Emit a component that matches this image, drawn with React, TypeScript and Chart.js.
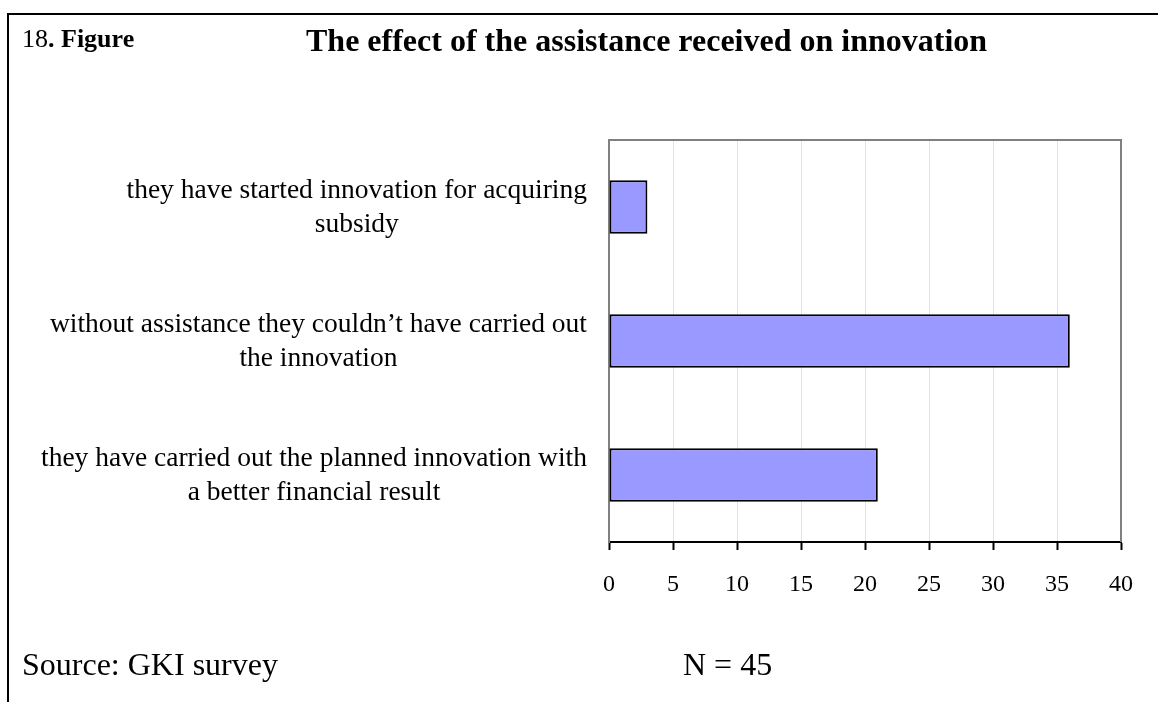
import React, { useEffect, useRef } from "react";
import { Chart, registerables } from "chart.js";

Chart.register(...registerables);

// ---- data ----
const categories: string[][] = [
  ["they have started innovation for acquiring", "subsidy"],
  ["without assistance they couldn\u2019t have carried out", "the innovation"],
  ["they have carried out the planned innovation with", "a better financial result"],
];
const values: number[] = [3, 36, 21];
const xMin = 0;
const xMax = 40;
const xStep = 5;

const figureNumber = "18";
const figureWord = ". Figure";
const titleText = "The effect of the assistance received on innovation";
const sourceText = "Source: GKI survey";
const sampleText = "N = 45";

const SERIF = '"Liberation Serif", "Times New Roman", serif';
const LABEL_FONT = 27.5;
const LABEL_LINE = 34;

const categoryLabelPlugin = {
  id: "categoryLabels",
  afterDraw(chart: any) {
    const ys = chart.scales.y;
    const ctx = chart.ctx as CanvasRenderingContext2D;
    ctx.save();
    ctx.font = `${LABEL_FONT}px ${SERIF}`;
    ctx.fillStyle = "#000";
    ctx.textBaseline = "middle";
    ctx.textAlign = "center";
    const right = chart.chartArea.left - 22;
    categories.forEach((lines, i) => {
      const y = ys.getPixelForTick(i) + 1;
      const w = Math.max(...lines.map((l) => ctx.measureText(l).width));
      const cx = right - w / 2;
      lines.forEach((l, j) => {
        ctx.fillText(l, cx, y + (j - (lines.length - 1) / 2) * LABEL_LINE);
      });
    });
    ctx.restore();
  },
};

const framePlugin = {
  id: "plotFrame",
  beforeDatasetsDraw(chart: any) {
    const { left, right, top, bottom } = chart.chartArea;
    const ctx = chart.ctx as CanvasRenderingContext2D;
    ctx.save();
    ctx.strokeStyle = "#808080";
    ctx.lineWidth = 2;
    ctx.beginPath();
    ctx.moveTo(left, top);
    ctx.lineTo(right, top);
    ctx.lineTo(right, bottom);
    ctx.stroke();
    ctx.restore();
  },
};

export default function App() {
  const canvasRef = useRef<HTMLCanvasElement | null>(null);

  useEffect(() => {
    if (!canvasRef.current) return;
    const chart = new Chart(canvasRef.current, {
      type: "bar",
      data: {
        labels: categories,
        datasets: [
          {
            data: values,
            backgroundColor: "#9999ff",
            borderColor: "#000000",
            borderWidth: 2,
            borderSkipped: false,
            barPercentage: 0.4,
            categoryPercentage: 1,
          },
        ],
      },
      options: {
        indexAxis: "y",
        responsive: false,
        animation: false,
        devicePixelRatio: 1,
        layout: { padding: { top: 140, right: 37, left: 0, bottom: 0 } },
        plugins: {
          legend: { display: false },
          tooltip: { enabled: false },
          title: { display: false },
        },
        scales: {
          x: {
            min: xMin,
            max: xMax,
            ticks: {
              stepSize: xStep,
              color: "#000",
              font: { family: SERIF, size: 24 },
              padding: 20,
              maxRotation: 0,
            },
            grid: {
              color: "#e2e2e2",
              lineWidth: 1,
              tickColor: "#000",
              tickLength: 8,
              tickWidth: 2,
            },
            border: { color: "#000", width: 2 },
            afterFit: (s: any) => {
              s.height = 160;
            },
          },
          y: {
            ticks: { display: false },
            grid: { display: false },
            border: { color: "#808080", width: 2 },
            afterFit: (s: any) => {
              s.width = 609;
            },
          },
        },
      },
      plugins: [framePlugin, categoryLabelPlugin],
    } as any);
    return () => chart.destroy();
  }, []);

  const text: React.CSSProperties = {
    position: "absolute",
    fontFamily: SERIF,
    lineHeight: 1,
    whiteSpace: "nowrap",
    color: "#000",
  };

  return (
    <div
      style={{
        position: "fixed",
        left: 0,
        top: 0,
        width: 1158,
        height: 702,
        background: "#fff",
        overflow: "hidden",
      }}
    >
      <div
        style={{
          position: "absolute",
          left: 7,
          top: 13,
          width: 1151,
          height: 689,
          borderTop: "2px solid #000",
          borderLeft: "2px solid #000",
        }}
      />
      <canvas
        ref={canvasRef}
        width={1158}
        height={702}
        style={{ position: "absolute", left: 0, top: 0, width: 1158, height: 702 }}
      />
      <div style={{ ...text, left: 22, top: 26, fontSize: 26 }}>
        <span>{figureNumber}</span>
        <span style={{ fontWeight: "bold" }}>{figureWord}</span>
      </div>
      <div style={{ ...text, left: 306, top: 24, fontSize: 32, fontWeight: "bold" }}>
        {titleText}
      </div>
      <div style={{ ...text, left: 22, top: 648, fontSize: 32 }}>{sourceText}</div>
      <div style={{ ...text, left: 683, top: 648, fontSize: 32 }}>{sampleText}</div>
    </div>
  );
}
